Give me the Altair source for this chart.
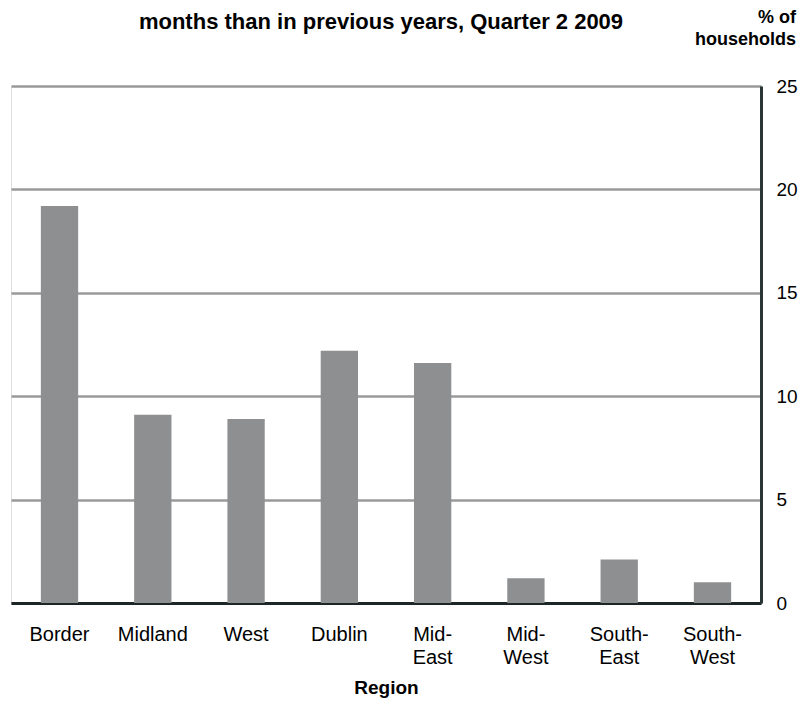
import altair as alt
import pandas as pd

regions = ["Border", "Midland", "West", "Dublin", "Mid-East", "Mid-West", "South-East", "South-West"]
values = [19.2, 9.1, 8.9, 12.2, 11.6, 1.2, 2.1, 1.0]
y_ticks = [0, 5, 10, 15, 20, 25]
title_text = "months than in previous years, Quarter 2 2009"
y_title = "% of\nhouseholds"
x_title = "Region"

FONT = "Liberation Sans"

df = pd.DataFrame({"Region": regions, "Value": values})

bars = alt.Chart(df).mark_bar(color="#8e8f91").encode(
    x=alt.X(
        "Region:N",
        sort=regions,
        scale=alt.Scale(paddingInner=0.6, paddingOuter=0.32),
        axis=alt.Axis(
            title=x_title,
            titleFont=FONT,
            titleFontSize=19,
            titleFontWeight="bold",
            titleColor="#000000",
            titleX=375,
            titleY=90,
            titleBaseline="alphabetic",
            labelFont=FONT,
            labelFontSize=20,
            labelColor="#000000",
            labelAngle=0,
            labelBaseline="top",
            labelPadding=21,
            labelLineHeight=23,
            labelExpr="split(replace(datum.label, '-', '-|'), '|')",
            ticks=False,
            domainColor="#1c2626",
            domainWidth=3,
        ),
    ),
    y=alt.Y(
        "Value:Q",
        scale=alt.Scale(domain=[0, 25], nice=False),
        axis=alt.Axis(
            orient="right",
            title=None,
            values=y_ticks,
            labelFont=FONT,
            labelFontSize=19,
            labelColor="#000000",
            labelAlign="left",
            labelPadding=15,
            ticks=False,
            domainColor="#2a3636",
            domainWidth=3,
            grid=True,
            gridColor="#9a9a9a",
            gridWidth=2.5,
        ),
    ),
)

title_df = pd.DataFrame({"t": [title_text]})
title = alt.Chart(title_df).mark_text(
    font=FONT, fontSize=22, fontWeight="bold", color="#000000",
    align="center", baseline="top",
).encode(text="t:N", x=alt.value(370), y=alt.value(-74))

ytitle_df = pd.DataFrame({"t": [y_title]})
ytitle = alt.Chart(ytitle_df).mark_text(
    font=FONT, fontSize=18, fontWeight="bold", color="#000000",
    align="right", baseline="alphabetic", lineBreak="\n", lineHeight=22,
).encode(text="t:N", x=alt.value(785), y=alt.value(-63))

chart = alt.layer(bars, title, ytitle).properties(
    width=750,
    height=517,
    autosize=alt.AutoSizeParams(type="none"),
    padding={"left": 3, "top": 78, "right": 37, "bottom": 95},
).configure_view(stroke=None).configure(background="#ffffff")

chart.save("out.html", embed_options={"renderer": "svg", "actions": False})
